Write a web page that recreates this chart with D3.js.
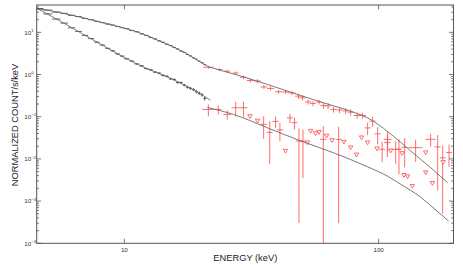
<!DOCTYPE html>
<html>
<head>
<meta charset="utf-8">
<script src="https://cdn.jsdelivr.net/npm/d3@7"></script>
<style>
body { margin: 0; background: #fff; }
svg { display: block; }
</style>
</head>
<body>
<svg id="chart" width="463" height="265"></svg>
<script>
// PCA (black), two sources, shared energy bins
var pcaEnergy = [4.6, 5.0, 5.4, 5.8, 6.2, 6.6, 7.0, 7.4, 7.8, 8.2, 8.6, 9.0, 9.4, 9.8, 10.2, 10.7, 11.2, 11.7, 12.2, 12.7, 13.2, 13.7, 14.2, 14.7, 15.2, 15.7, 16.2, 16.7, 17.2, 17.7, 18.2, 18.7, 19.2, 19.7, 20.2, 20.7];
var pcaHalfWidth = [0.2, 0.2, 0.2, 0.2, 0.2, 0.2, 0.2, 0.2, 0.2, 0.2, 0.2, 0.2, 0.2, 0.2, 0.25, 0.25, 0.25, 0.25, 0.25, 0.25, 0.25, 0.25, 0.25, 0.25, 0.25, 0.25, 0.25, 0.25, 0.25, 0.25, 0.25, 0.25, 0.25, 0.25, 0.25, 0.25];
var pcaBright = [36.5, 33.6, 30.2, 28.1, 25.3, 23.6, 21.3, 19.9, 18.2, 17.0, 15.7, 14.8, 13.7, 12.9, 12.2, 11.0, 10.3, 9.2, 8.45, 7.6, 7.0, 6.28, 5.8, 5.22, 4.86, 4.35, 4.01, 3.6, 3.34, 3.0, 2.76, 2.48, 2.30, 2.06, 1.91, 1.72];
var pcaBrightErr = [0.6, 0.5, 0.45, 0.4, 0.38, 0.35, 0.32, 0.3, 0.28, 0.26, 0.25, 0.24, 0.23, 0.22, 0.21, 0.2, 0.19, 0.18, 0.17, 0.16, 0.15, 0.14, 0.13, 0.12, 0.12, 0.11, 0.1, 0.1, 0.09, 0.09, 0.08, 0.08, 0.07, 0.07, 0.07, 0.06];
var pcaFaint = [35.5, 27.3, 20.6, 16.5, 12.8, 10.5, 8.45, 7.1, 5.82, 5.0, 4.17, 3.65, 3.08, 2.73, 2.36, 2.09, 1.78, 1.60, 1.38, 1.29, 1.14, 1.08, 0.95, 0.91, 0.79, 0.76, 0.65, 0.64, 0.56, 0.50, 0.47, 0.44, 0.39, 0.36, 0.33, 0.27];
var pcaFaintErr = [0.8, 0.6, 0.45, 0.38, 0.3, 0.26, 0.22, 0.19, 0.17, 0.15, 0.13, 0.12, 0.11, 0.1, 0.09, 0.085, 0.08, 0.075, 0.07, 0.065, 0.06, 0.058, 0.055, 0.052, 0.05, 0.048, 0.045, 0.044, 0.042, 0.04, 0.038, 0.037, 0.035, 0.034, 0.032, 0.03];

// HEXTE (red), bright source
var hexteBrightEnergy = [21.4, 23.7, 25.4, 27.4, 29.4, 31.3, 33.4, 35.4, 37.6, 40.4, 43.0, 45.6, 48.4, 50.2, 52.8, 55.2, 58.3, 60.7, 63.3, 66.5, 70.2, 74.1, 77.6, 82.3, 86.5, 90.5, 94.7, 99.1, 108.5, 116.7, 139.8, 160.2, 189.2];
var hexteBrightHalfWidth = [0.97, 0.64, 0.69, 0.75, 0.93, 0.99, 1.06, 1.12, 1.19, 1.28, 1.36, 1.45, 1.53, 1.37, 1.44, 1.50, 1.59, 1.65, 1.72, 1.81, 1.91, 2.02, 2.11, 2.61, 2.74, 2.46, 2.58, 2.70, 3.93, 5.29, 8.87, 7.26, 5.15];
var hexteBright = [1.49, 1.31, 1.20, 1.085, 0.863, 0.721, 0.702, 0.506, 0.467, 0.390, 0.386, 0.365, 0.307, 0.281, 0.224, 0.206, 0.224, 0.185, 0.180, 0.149, 0.145, 0.137, 0.128, 0.107, 0.107, 0.0543, 0.0787, 0.0392, 0.0291, 0.0169, 0.0185, 0.0291, 0.0141];
var hexteBrightErr = [0.12, 0.107, 0.098, 0.089, 0.094, 0.079, 0.076, 0.055, 0.051, 0.042, 0.042, 0.040, 0.042, 0.038, 0.030, 0.028, 0.030, 0.030, 0.029, 0.024, 0.024, 0.022, 0.021, 0.017, 0.017, 0.0177, 0.0214, 0.0171, 0.0143, 0.0092, 0.0101, 0.0095, 0.0077];

// HEXTE (red), faint source: detections and upper limits
var hexteFaintEnergy = [21.4, 23.4, 25.4, 27.4, 29.4, 35.3, 37.3, 39.3, 40.9, 44.8, 46.7, 48.6, 50.4, 60.6, 69.6, 103.2, 108.2, 120.2, 126.6, 170.7, 178.6];
var hexteFaintHalfWidth = [1.16, 0.64, 0.92, 0.99, 1.07, 0.96, 1.01, 1.07, 1.11, 1.22, 1.27, 1.32, 1.37, 1.65, 1.89, 2.81, 2.94, 3.27, 3.44, 4.64, 4.86];
var hexteFaint = [0.149, 0.149, 0.113, 0.163, 0.163, 0.0658, 0.0425, 0.0774, 0.0487, 0.0937, 0.0722, 0.0265, 0.0265, 0.0291, 0.0291, 0.0169, 0.0243, 0.0169, 0.0188, 0.0193, 0.0106];
var hexteFaintErr = [0.047, 0.036, 0.028, 0.063, 0.063, 0.036, 0.035, 0.024, 0.0226, 0.0228, 0.0226, 0.0262, 0.0230, 0.0300, 0.0288, 0.0086, 0.0133, 0.0126, 0.0125, 0.0175, 0.0101];
var limitEnergy = [31.2, 33.4, 43.0, 52.5, 54.0, 56.5, 58.3, 62.4, 65.6, 73.0, 77.6, 81.9, 85.7, 90.5, 98.6, 111.5, 123.7, 125.8, 130.0, 135.7, 153.1, 162.7, 153.1, 179.4];
var limitValue = [0.1017, 0.0796, 0.01537, 0.0243, 0.0457, 0.0403, 0.0432, 0.0352, 0.0275, 0.0251, 0.0185, 0.0125, 0.0319, 0.0243, 0.0175, 0.01554, 0.01356, 0.0041, 0.00382, 0.00225, 0.00474, 0.00265, 0.0141, 0.0083];

// folded models
var modelBrightPcaE = [4.52, 5.60, 6.71, 8.05, 10.0, 11.56, 13.2, 15.18, 17.4, 19.5, 21.2];
var modelBrightPcaF = [37.3, 29.2, 22.9, 17.4, 12.6, 9.58, 6.9, 4.85, 3.22, 2.14, 1.59];
var modelFaintPcaE = [4.52, 5.60, 6.71, 8.05, 10.0, 12.1, 14.2, 16.6, 19.2, 21.8];
var modelFaintPcaF = [37.3, 18.4, 9.84, 5.26, 2.52, 1.43, 0.97, 0.63, 0.40, 0.245];
var modelBrightHexteE = [21.2, 26.9, 36.6, 49.3, 59.1, 70.9, 81.2, 90.5, 104.6, 122.1, 142.4, 164.6, 187.0];
var modelBrightHexteF = [1.546, 1.027, 0.580, 0.319, 0.224, 0.1614, 0.123, 0.0937, 0.0529, 0.0247, 0.0112, 0.00538, 0.00272];
var modelFaintHexteE = [21.2, 26.9, 36.6, 49.3, 66.5, 90.5, 108.5, 122.1, 146.3, 164.6, 188.6];
var modelFaintHexteF = [0.166, 0.1133, 0.0543, 0.0268, 0.01394, 0.0065, 0.00388, 0.00251, 0.00124, 0.00068, 0.000335];

var xTickValues = [10, 100];
var yTickExponents = [-4, -3, -2, -1, 0, 1];

var plotLeft = 36.7, plotRight = 453.5, plotTop = 5, plotBottom = 243.3;
var font = '"Liberation Sans", Arial, Helvetica, sans-serif';
var red = '#ff5252';

var svg = d3.select('#chart');
var x = d3.scaleLog().domain([4.52, 197]).range([plotLeft, plotRight]);
var y = d3.scaleLog().domain([1e-4, 44.4]).range([plotBottom, plotTop]);

svg.append('defs').append('clipPath').attr('id', 'plotclip')
	.append('rect').attr('x', plotLeft).attr('y', plotTop)
	.attr('width', plotRight - plotLeft).attr('height', plotBottom - plotTop);

var plot = svg.append('g').attr('clip-path', 'url(#plotclip)');

function drawCrosses(energy, halfWidth, value, err, color, width) {
	var g = plot.append('g').attr('stroke', color).attr('stroke-width', width);
	var idx = d3.range(energy.length);
	g.selectAll(null).data(idx).enter().append('line')
		.attr('x1', function(i) { return x(energy[i] - halfWidth[i]); })
		.attr('x2', function(i) { return x(energy[i] + halfWidth[i]); })
		.attr('y1', function(i) { return y(value[i]); })
		.attr('y2', function(i) { return y(value[i]); });
	g.selectAll(null).data(idx).enter().append('line')
		.attr('x1', function(i) { return x(energy[i]); })
		.attr('x2', function(i) { return x(energy[i]); })
		.attr('y1', function(i) { return y(value[i] + err[i]); })
		.attr('y2', function(i) {
			var lo = value[i] - err[i];
			return lo > 0 ? y(lo) : plotBottom + 5;
		});
}

drawCrosses(pcaEnergy, pcaHalfWidth, pcaBright, pcaBrightErr, '#222', 0.7);
drawCrosses(pcaEnergy, pcaHalfWidth, pcaFaint, pcaFaintErr, '#222', 0.7);
drawCrosses(hexteBrightEnergy, hexteBrightHalfWidth, hexteBright, hexteBrightErr, red, 0.85);
drawCrosses(hexteFaintEnergy, hexteFaintHalfWidth, hexteFaint, hexteFaintErr, red, 0.85);

// upper limits: open downward triangles
plot.append('g').selectAll('path').data(d3.range(limitEnergy.length)).enter().append('path')
	.attr('d', function(i) {
		var cx = x(limitEnergy[i]), cy = y(limitValue[i]);
		return 'M' + (cx - 2.2) + ',' + (cy - 1.7) + 'L' + (cx + 2.2) + ',' + (cy - 1.7) + 'L' + cx + ',' + (cy + 2.1) + 'Z';
	})
	.attr('fill', '#fff')
	.attr('stroke', red)
	.attr('stroke-width', 0.85);

// models
var line = d3.line()
	.x(function(d) { return x(d[0]); })
	.y(function(d) { return y(d[1]); })
	.curve(d3.curveMonotoneX);

[[modelBrightPcaE, modelBrightPcaF], [modelFaintPcaE, modelFaintPcaF],
 [modelBrightHexteE, modelBrightHexteF], [modelFaintHexteE, modelFaintHexteF]].forEach(function(m) {
	plot.append('path')
		.datum(d3.zip(m[0], m[1]))
		.attr('d', line)
		.attr('fill', 'none')
		.attr('stroke', '#6a6a6a')
		.attr('stroke-width', 0.9);
});

// frame
var axisColor = '#555';
svg.append('rect')
	.attr('x', plotLeft).attr('y', plotTop)
	.attr('width', plotRight - plotLeft).attr('height', plotBottom - plotTop)
	.attr('fill', 'none').attr('stroke', axisColor).attr('stroke-width', 1);

var ticks = svg.append('g').attr('stroke', axisColor).attr('stroke-width', 0.8);

// x ticks, top and bottom, majors only
xTickValues.forEach(function(v) {
	ticks.append('line').attr('x1', x(v)).attr('x2', x(v)).attr('y1', plotBottom).attr('y2', plotBottom - 4.5);
	ticks.append('line').attr('x1', x(v)).attr('x2', x(v)).attr('y1', plotTop).attr('y2', plotTop + 4.5);
});

// y ticks, left and right, with minors
y.ticks().forEach(function(v) {
	var major = Math.abs(Math.log10(v) - Math.round(Math.log10(v))) < 1e-6;
	var len = major ? 4.5 : 2.3;
	ticks.append('line').attr('x1', plotLeft).attr('x2', plotLeft + len).attr('y1', y(v)).attr('y2', y(v));
	ticks.append('line').attr('x1', plotRight).attr('x2', plotRight - len).attr('y1', y(v)).attr('y2', y(v));
});

// tick labels
svg.append('g').selectAll('text').data(xTickValues).enter().append('text')
	.attr('x', function(d) { return x(d); })
	.attr('y', 251.6)
	.attr('text-anchor', 'middle')
	.attr('font-family', font).attr('font-size', 6.2).attr('fill', '#333')
	.text(function(d) { return d; });

var yl = svg.append('g').selectAll('text').data(yTickExponents).enter().append('text')
	.attr('x', 24.3)
	.attr('y', function(d) { return y(Math.pow(10, d)) + 2.3; })
	.attr('font-family', font).attr('font-size', 6.2).attr('fill', '#333');
yl.append('tspan').text('10');
yl.append('tspan').attr('dy', -2.6).attr('font-size', 4.3)
	.text(function(d) { return d < 0 ? '\u2212' + (-d) : d; });

// axis titles
svg.append('text')
	.attr('x', 245.3).attr('y', 260.6)
	.attr('text-anchor', 'middle')
	.attr('font-family', font).attr('font-size', 9.3).attr('fill', '#222')
	.text('ENERGY (keV)');

svg.append('text')
	.attr('transform', 'translate(17.5,125) rotate(-90)')
	.attr('text-anchor', 'middle')
	.attr('font-family', font).attr('font-size', 9.3).attr('fill', '#222')
	.text('NORMALIZED COUNT/s/keV');
</script>
</body>
</html>
